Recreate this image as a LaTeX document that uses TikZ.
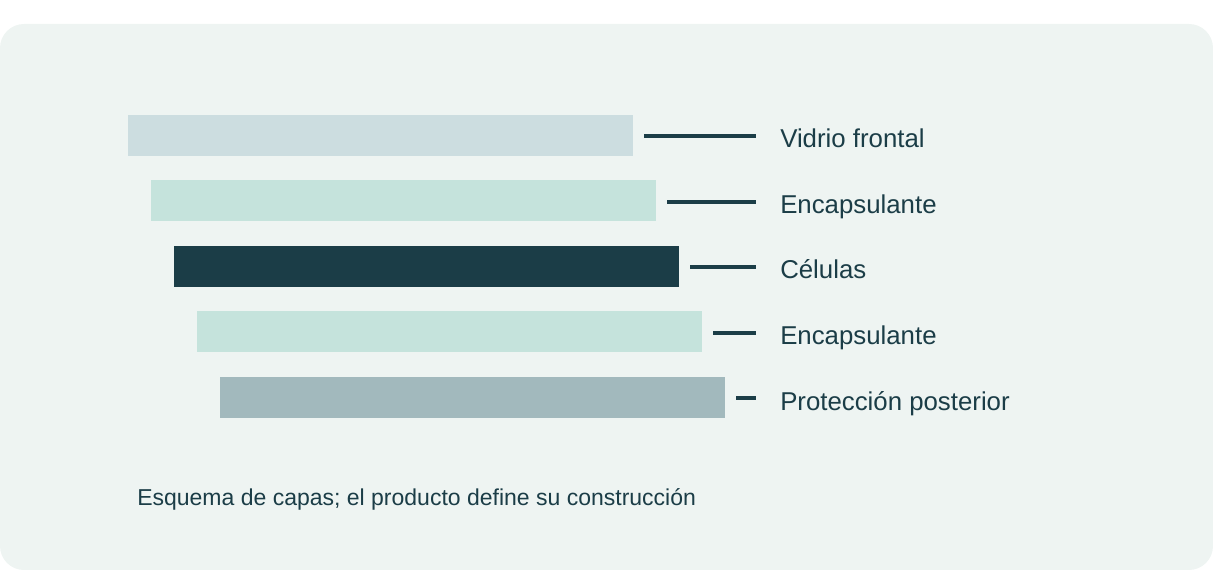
\documentclass[tikz,border=0pt]{standalone}
\usepackage{fontspec}
\setmainfont{Liberation Sans}
\definecolor{bgc}{HTML}{EEF4F2}
\definecolor{ink}{HTML}{1B3D47}
\definecolor{glass}{HTML}{CCDDE0}
\definecolor{encap}{HTML}{C5E3DC}
\definecolor{backc}{HTML}{A2B9BD}
\tikzset{
  layerbar/.style={fill=#1, draw=none},
  lead/.style={draw=ink, line width=2.5pt},
  lab/.style={anchor=base west, inner sep=0pt, text=ink, font=\fontsize{19.35pt}{22pt}\selectfont},
  captext/.style={anchor=base west, inner sep=0pt, text=ink, font=\fontsize{17.25pt}{20pt}\selectfont}
}
\begin{document}
\begin{tikzpicture}[x=0.75pt,y=-0.75pt]
\useasboundingbox (0,0) rectangle (1213,570);
\fill[bgc, rounded corners=18pt] (0,24) rectangle (1213,570);
% layers
\fill[layerbar=glass] (128,115) rectangle (633,156);
\fill[layerbar=encap] (151,180) rectangle (656,221);
\fill[layerbar=ink]   (174,246) rectangle (679,287);
\fill[layerbar=encap] (197,311) rectangle (702,352);
\fill[layerbar=backc] (220,377) rectangle (725,418);
% leader line endpoints
\coordinate (a1) at (644,136); \coordinate (b1) at (756,136);
\coordinate (a2) at (667,202); \coordinate (b2) at (756,202);
\coordinate (a3) at (690,267); \coordinate (b3) at (756,267);
\coordinate (a4) at (713,333); \coordinate (b4) at (756,333);
\coordinate (a5) at (736,398); \coordinate (b5) at (756,398);
\draw[lead] (a1) -- (b1);
\draw[lead] (a2) -- (b2);
\draw[lead] (a3) -- (b3);
\draw[lead] (a4) -- (b4);
\draw[lead] (a5) -- (b5);
% labels
\node[lab] (l1) at (780,147.7) {Vidrio frontal};
\node[lab] (l2) at (780,213.3) {Encapsulante};
\node[lab] (l3) at (780,278.6) {Células};
\node[lab] (l4) at (780,344.3) {Encapsulante};
\node[lab] (l5) at (780,410) {Protección posterior};
\node[captext] (c) at (137,505) {Esquema de capas; el producto define su construcción};
\end{tikzpicture}
\end{document}
